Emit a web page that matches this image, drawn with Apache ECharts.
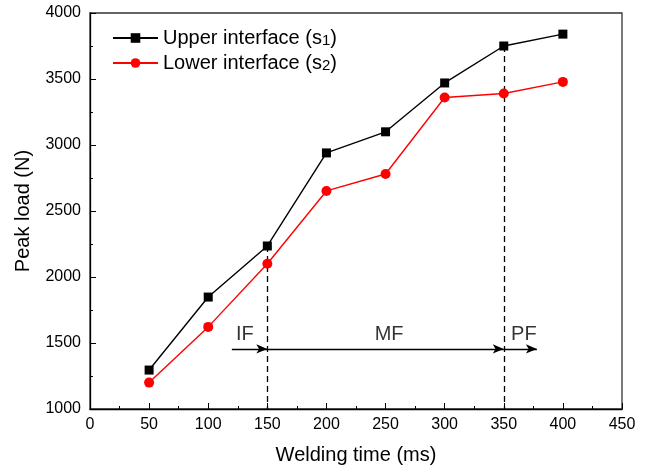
<!DOCTYPE html>
<html><head><meta charset="utf-8">
<script src="https://cdn.jsdelivr.net/npm/echarts@6/dist/echarts.min.js"></script>
<style>html,body{margin:0;padding:0;background:#fff}#c{width:647px;height:469px}</style>
</head><body><div id="c"></div>
<script>
const xValues = [50, 100, 150, 200, 250, 300, 350, 400];
const upper = [1295, 1848, 2235, 2940, 3100, 3470, 3750, 3840];
const lower = [1200, 1622, 2100, 2652, 2780, 3360, 3390, 3478];
const xTicks = [0, 50, 100, 150, 200, 250, 300, 350, 400, 450];
const yTicks = [1000, 1500, 2000, 2500, 3000, 3500, 4000];
const seriesNames = ['Upper interface (s1)', 'Lower interface (s2)'];
const dashedLines = [[150, 2235, 1000], [350, 3750, 1000]];
const arrows = [[120, 150, 1455], [150, 350, 1455], [350, 378, 1455]];
const phaseLabels = [[131, 1565, 'IF'], [253, 1565, 'MF'], [367, 1565, 'PF']];

const font = 'Liberation Sans, Arial, sans-serif';
const chart = echarts.init(document.getElementById('c'));
chart.setOption({
  animation: false,
  backgroundColor: '#fff',
  grid: { left: 90, top: 13, right: 25, bottom: 60, outerBoundsMode: 'none', containLabel: false, show: true, borderColor: '#333', borderWidth: 1.3, backgroundColor: 'transparent' },
  legend: {
    left: 112, top: 28, padding: 0, orient: 'vertical', itemWidth: 45, itemHeight: 12, itemGap: 5,
    formatter: n => n.replace(/\(s(\d)\)/, '(s{sub|$1})'),
    textStyle: {
      fontFamily: font, fontSize: 20, color: '#000', lineHeight: 20,
      rich: { sub: { fontFamily: font, fontSize: 15, color: '#000', lineHeight: 20, padding: [5, 0, 0, 0] } }
    },
    data: seriesNames
  },
  xAxis: {
    type: 'value', min: xTicks[0], max: xTicks[xTicks.length - 1], interval: 50,
    name: 'Welding time (ms)', nameLocation: 'middle', nameGap: 36,
    nameTextStyle: { fontFamily: font, fontSize: 20, color: '#000' },
    axisLine: { lineStyle: { color: '#000', width: 1.3 } },
    axisTick: { inside: true, length: 6, lineStyle: { color: '#000' } },
    minorTick: { show: true, splitNumber: 2, length: 3, lineStyle: { color: '#000' } },
    axisLabel: { fontFamily: font, fontSize: 16, color: '#000', margin: 8 },
    splitLine: { show: false }
  },
  yAxis: {
    type: 'value', min: yTicks[0], max: yTicks[yTicks.length - 1], interval: 500,
    name: 'Peak load (N)', nameLocation: 'middle', nameGap: 57,
    nameTextStyle: { fontFamily: font, fontSize: 20, color: '#000' },
    axisLine: { show: true, lineStyle: { color: '#000', width: 1.3 } },
    axisTick: { show: true, inside: true, length: 6, lineStyle: { color: '#000' } },
    minorTick: { show: true, splitNumber: 2, length: 3, lineStyle: { color: '#000' } },
    axisLabel: { fontFamily: font, fontSize: 16, color: '#000', margin: 9, formatter: v => String(v) },
    splitLine: { show: false }
  },
  series: [
    {
      name: seriesNames[0], type: 'line',
      data: xValues.map((x, i) => [x, upper[i]]),
      symbol: 'rect', symbolSize: 9,
      itemStyle: { color: '#000' }, lineStyle: { color: '#000', width: 1.4 }, z: 5
    },
    {
      name: seriesNames[1], type: 'line',
      data: xValues.map((x, i) => [x, lower[i]]),
      symbol: 'circle', symbolSize: 10,
      itemStyle: { color: '#ff0000' }, lineStyle: { color: '#ff0000', width: 1.4 }, z: 5,
      markLine: {
        silent: true, symbol: 'none', animation: false,
        label: { show: false },
        lineStyle: { color: '#000', type: [6, 4], width: 1.3 },
        data: dashedLines.map(d => [{ coord: [d[0], d[1]] }, { coord: [d[0], d[2]] }])
      }
    },
    {
      name: 'arrows', type: 'line', data: [], z: 4,
      markLine: {
        silent: true, symbol: ['none', 'arrow'], symbolSize: [7, 11], animation: false,
        label: { show: false },
        lineStyle: { color: '#000', type: 'solid', width: 1.3 },
        data: arrows.map(a => [{ coord: [a[0], a[2]] }, { coord: [a[1], a[2]] }])
      }
    },
    {
      name: 'labels', type: 'scatter', symbolSize: 0, z: 6,
      data: phaseLabels.map(p => ({ value: [p[0], p[1]], name: p[2] })),
      label: { show: true, position: 'inside', formatter: p => p.name, fontFamily: font, fontSize: 20, color: '#000' }
    }
  ]
});
</script></body></html>
